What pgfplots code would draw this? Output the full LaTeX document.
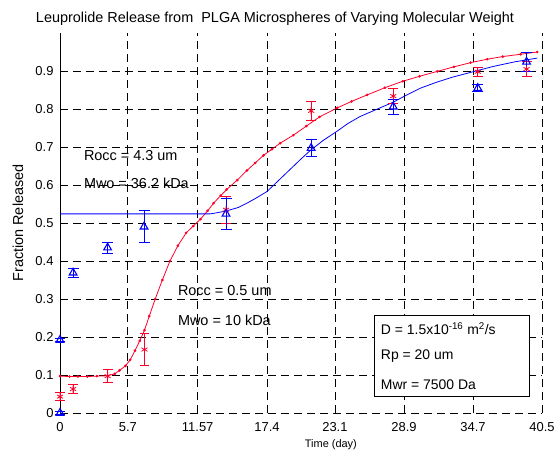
\documentclass[border=0pt]{standalone}
\usepackage{pgfplots}
\pgfplotsset{compat=1.18}
\usepackage{fontspec}
\setmainfont{Liberation Sans}
\definecolor{mred}{RGB}{255,0,40}
\definecolor{mblue}{RGB}{0,0,255}
\begin{document}
\begin{tikzpicture}
\begin{axis}[
  scale only axis,
  width=482bp, height=380bp,
  xmin=0, xmax=40.5, ymin=0, ymax=1,
  xtick={0,5.7,11.57,17.4,23.1,28.9,34.7,40.5},
  xticklabels={0,5.7,11.57,17.4,23.1,28.9,34.7,40.5},
  ytick={0,0.1,0.2,0.3,0.4,0.5,0.6,0.7,0.8,0.9},
  yticklabels={0,0.1,0.2,0.3,0.4,0.5,0.6,0.7,0.8,0.9},
  /pgf/number format/assume math mode=true,
  tick label style={font=\fontsize{13}{15}\selectfont},
  xticklabel style={yshift=-6bp},
  yticklabel style={xshift=-3bp},
  grid=major,
  major grid style={black, line width=0.7pt, dash pattern=on 8bp off 5bp},
  axis x line*=bottom, axis y line*=left,
  x axis line style={draw=none},
  y axis line style={black, line width=0.8pt},
  tick style={black, line width=0.7pt},
  major tick length=4bp,
  tick align=inside,
  clip=false,
]
% red model curve
\addplot[mred, line width=0.8pt, mark=*, mark size=0.9pt] coordinates {
(0,0.097)(0.8,0.096)(1.5,0.096)(2.3,0.096)(3.1,0.097)(4.0,0.098)(4.6,0.103)
(5.0,0.112)(5.5,0.124)(5.9,0.140)(6.3,0.164)(6.7,0.190)(7.1,0.218)(7.5,0.255)
(8.0,0.300)(8.6,0.350)(9.24,0.400)(9.9,0.440)(10.6,0.474)(11.2,0.492)(11.8,0.510)
(12.4,0.532)(12.9,0.552)(13.5,0.572)(14.0,0.588)(14.9,0.613)(15.7,0.638)
(16.4,0.658)(17.1,0.678)(17.8,0.694)(18.5,0.710)(19.6,0.731)(20.7,0.755)
(21.8,0.779)(23.3,0.803)(24.5,0.820)(25.8,0.837)(27.3,0.856)(28.8,0.873)
(30.2,0.886)(31.7,0.899)(33.1,0.911)(34.5,0.922)(35.9,0.931)(37.2,0.938)
(38.7,0.944)(40.1,0.950)};
% blue model curve
\addplot[mblue, line width=0.8pt] coordinates {
(0,0.524)(12.6,0.524)(13.2,0.527)(14.0,0.532)(15.0,0.541)(15.7,0.552)(16.5,0.566)
(17.4,0.583)(18.3,0.610)(19.3,0.640)(20.2,0.667)(21.0,0.690)(22.1,0.717)
(23.3,0.742)(24.2,0.762)(25.2,0.780)(26.6,0.799)(28.0,0.818)(29.2,0.838)
(30.3,0.855)(31.6,0.870)(33.0,0.884)(34.7,0.898)(36.4,0.912)(38.2,0.924)(40.1,0.934)};
% red data
\addplot[mred, only marks, mark=asterisk, mark size=3.5pt, line width=0.8pt,
  error bars/.cd, y dir=both, y explicit,
  error bar style={mred, line width=0.8pt},
  error mark options={rotate=90, mred, mark size=5pt, line width=0.8pt}]
  coordinates {
(0,0.043) +- (0,0.010)
(1.1,0.063) +- (0,0.012)
(4.0,0.097) +- (0,0.017)
(7.1,0.167) +- (0,0.043)
(13.95,0.535) +- (0,0.036)
(21.1,0.795) +- (0,0.024)
(28.0,0.834) +- (0,0.020)
(35.1,0.898) +- (0,0.011)
(39.2,0.905) +- (0,0.020)};
% blue data
\addplot[mblue, only marks, mark=triangle, mark size=4.5pt, line width=1.1pt,
  error bars/.cd, y dir=both, y explicit,
  error bar style={mblue, line width=0.9pt},
  error mark options={rotate=90, mblue, mark size=5.5pt, line width=0.9pt}]
  coordinates {
(0,0) +- (0,0.004)
(0,0.192) +- (0,0.004)
(1.1,0.369) +- (0,0.012)
(4.0,0.435) +- (0,0.015)
(7.06,0.490) +- (0,0.042)
(13.95,0.524) +- (0,0.040)
(21.1,0.697) +- (0,0.022)
(28.0,0.806) +- (0,0.020)
(35.1,0.855) +- (0,0.010)
(39.2,0.924) +- (0,0.024)};
% annotations
\node[anchor=west, font=\fontsize{14.5}{16}\selectfont, inner sep=0pt] at (axis cs:2.0,0.678) {Rocc = 4.3 um};
\node[anchor=west, font=\fontsize{14.5}{16}\selectfont, inner sep=0pt] at (axis cs:2.0,0.605) {Mwo = 36.2 kDa};
\node[anchor=west, font=\fontsize{14.5}{16}\selectfont, inner sep=0pt] at (axis cs:9.9,0.321) {Rocc = 0.5 um};
\node[anchor=west, font=\fontsize{14.5}{16}\selectfont, inner sep=0pt] at (axis cs:9.9,0.245) {Mwo = 10 kDa};
\draw[black, fill=white, line width=0.7pt] (axis cs:26.4,0.045) rectangle (axis cs:39.4,0.258);
\node[anchor=west, font=\fontsize{14}{16}\selectfont, inner sep=0pt] at (axis cs:26.95,0.221) {D = 1.5x10\textsuperscript{-16} m\textsuperscript{2}/s};
\node[anchor=west, font=\fontsize{14}{16}\selectfont, inner sep=0pt] at (axis cs:26.95,0.150) {Rp = 20 um};
\node[anchor=west, font=\fontsize{14}{16}\selectfont, inner sep=0pt] at (axis cs:26.95,0.074) {Mwr = 7500 Da};
% title and labels
\node[font=\fontsize{14.5}{16}\selectfont] at (rel axis cs:0.446,1.037) {Leuprolide Release from \ PLGA Microspheres of Varying Molecular Weight};
\node[font=\fontsize{14.5}{16}\selectfont, rotate=90] at (rel axis cs:-0.087,0.5) {Fraction Released};
\node[font=\fontsize{11}{13}\selectfont, inner sep=0pt] at (rel axis cs:0.562,-0.084) {Time (day)};
\end{axis}
\pgfresetboundingbox
\path[use as bounding box] (-60bp,-40bp) rectangle (496bp,413bp);
\end{tikzpicture}
\end{document}
